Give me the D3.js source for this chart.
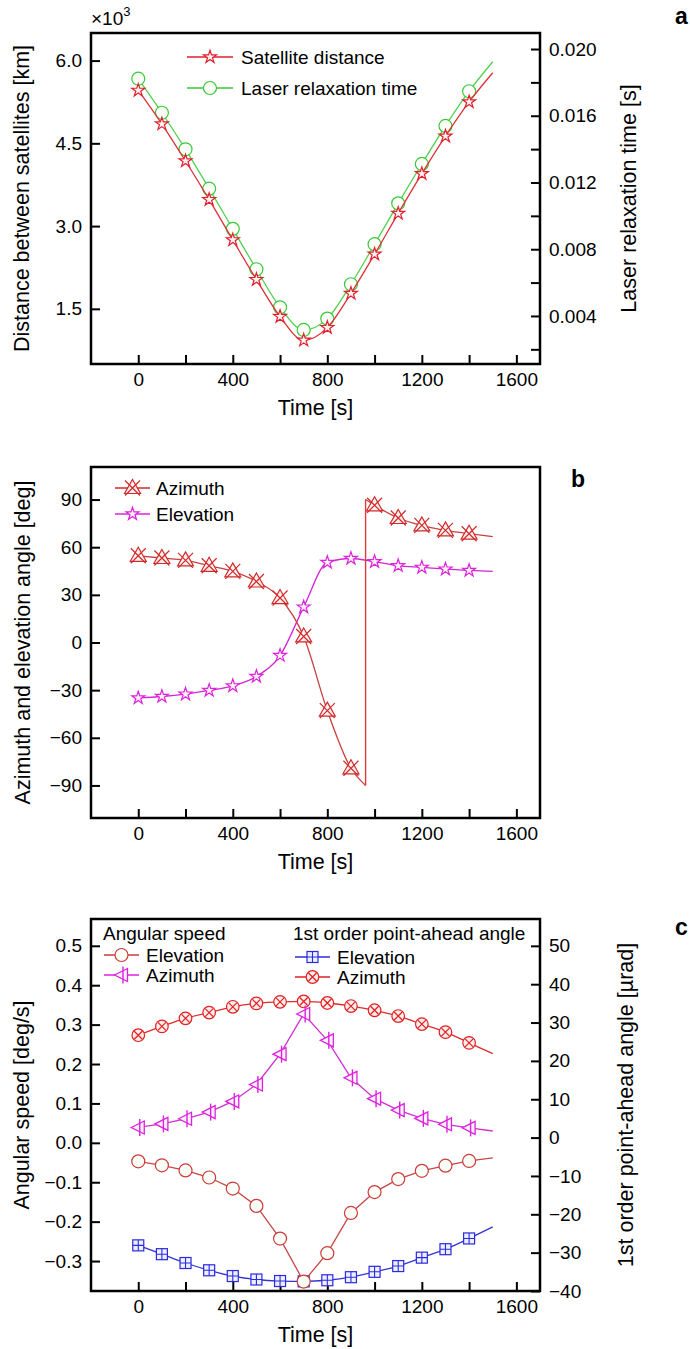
<!DOCTYPE html>
<html>
<head>
<meta charset="utf-8">
<script src="https://cdn.jsdelivr.net/npm/d3@7"></script>
<style>
  body { margin: 0; background: #fff; }
  svg text { font-family: "Liberation Sans", Arial, sans-serif; fill: #000; }
  .axis text { font-size: 19px; }
  .axis line { stroke: #000; stroke-width: 2; }
  .axis path { display: none; }
  .title { font-size: 21.5px; }
  .legend text { font-size: 19px; }
  .panel-label { font-size: 23px; font-weight: bold; }
</style>
</head>
<body>
<div id="chart"></div>
<script>

// ---- Data (time axis shared by all panels) ----
const times = [0, 100, 200, 300, 400, 500, 600, 700, 800, 900, 1000, 1100, 1200, 1300, 1400, 1500];
const lastMarkerTime = 1400;   // last point that carries a symbol

// Panel a
const satDistance = [5.46, 4.85, 4.18, 3.48, 2.75, 2.03, 1.36, 0.93, 1.16, 1.78, 2.49, 3.23, 3.95, 4.63, 5.25, 5.78];   // x10^3 km
const relaxTime   = [0.01822, 0.01618, 0.01399, 0.01163, 0.00922, 0.00680, 0.00452, 0.00316, 0.00384, 0.00590,
                     0.00830, 0.01075, 0.01311, 0.01539, 0.01747, 0.01924];                                             // s

// Panel b
const azimuth   = [54.6, 53.2, 51.7, 48.3, 44.8, 38.4, 28.0, 3.8, -42.9, -79.2, 86.4, 78.4, 73.7, 70.6, 68.5, 66.6];
const elevation = [-34.9, -34.0, -32.5, -30.2, -27.3, -21.4, -8.2, 22.3, 50.4, 52.9, 50.9, 48.3, 47.3, 46.2, 45.4, 44.8];
const azimuthWrapTime = 962;   // azimuth wraps from -90 to +90 here
const azimuthWrapFrom = -90;
const azimuthWrapTo   = 90;

// Panel c
const angSpeedElev = [-0.047, -0.057, -0.070, -0.088, -0.116, -0.160, -0.243, -0.352, -0.280, -0.178,
                      -0.125, -0.092, -0.071, -0.058, -0.046, -0.038];                                   // deg/s
const angSpeedAzim = [0.039, 0.048, 0.061, 0.078, 0.105, 0.148, 0.225, 0.327, 0.260, 0.165,
                      0.112, 0.083, 0.062, 0.047, 0.038, 0.030];                                         // deg/s
const paElev = [-28.1, -30.4, -32.7, -34.6, -36.1, -37.0, -37.4, -37.5, -37.2, -36.4, -35.0, -33.5, -31.3, -29.1, -26.3, -23.3]; // urad
const paAzim = [26.7, 29.0, 31.1, 32.6, 34.1, 35.0, 35.4, 35.5, 35.1, 34.3, 33.2, 31.7, 29.6, 27.5, 24.7, 21.9];                 // urad

// Ticks
const xTicks  = [0, 200, 400, 600, 800, 1000, 1200, 1400, 1600];
const xLabels = [0, 400, 800, 1200, 1600];
const aLeftTicks   = [1.5, 3.0, 4.5, 6.0];
const aRightTicks  = [0.002, 0.004, 0.006, 0.008, 0.010, 0.012, 0.014, 0.016, 0.018, 0.020];
const aRightLabels = [0.004, 0.008, 0.012, 0.016, 0.020];
const bLeftTicks   = [-90, -60, -30, 0, 30, 60, 90];
const cLeftTicks   = [-0.3, -0.2, -0.1, 0.0, 0.1, 0.2, 0.3, 0.4, 0.5];
const cRightTicks  = [-40, -30, -20, -10, 0, 10, 20, 30, 40, 50];

// ---- Layout ----
const W = 690, H = 1349;
const frame = {left: 91, right: 540};
const panels = {
    a: {top: 33,  bottom: 364},
    b: {top: 467, bottom: 818},
    c: {top: 919, bottom: 1291}
};

const svg = d3.select('#chart').append('svg')
    .attr('width', W).attr('height', H);

const x = d3.scaleLinear().domain([-200, 1700]).range([frame.left, frame.right]);

const yA  = d3.scaleLinear().domain([0.5, 6.5]).range([panels.a.bottom, panels.a.top]);
const yA2 = d3.scaleLinear().domain([0.00112, 0.02096]).range([panels.a.bottom, panels.a.top]);
const yB  = d3.scaleLinear().domain([-110.5, 110.5]).range([panels.b.bottom, panels.b.top]);
const yC  = d3.scaleLinear().domain([-0.376, 0.568]).range([panels.c.bottom, panels.c.top]);
const yC2 = d3.scaleLinear().domain([-40, 57]).range([panels.c.bottom, panels.c.top]);

// ---- Marker symbols, drawn centred on (0,0) ----
const markers = {
    star: function(s, c) {
        s.append('path').attr('d', d3.symbol(d3.symbolStar, 52)())
            .attr('fill', '#fff2f4').attr('stroke', c).attr('stroke-width', 1.2);
    },
    circle: function(s, c) {
        s.append('circle').attr('r', 6.5)
            .attr('fill', '#fbfff8').attr('stroke', c).attr('stroke-width', 1.2);
    },
    triX: function(s, c) {
        s.append('path').attr('d', 'M0,-8.5L8,5.5L-8,5.5Z')
            .attr('fill', '#fff0f0').attr('stroke', c).attr('stroke-width', 1.2);
        s.append('path').attr('d', 'M-7.5,-7.5L7.5,7.5M-7.5,7.5L7.5,-7.5')
            .attr('stroke', c).attr('stroke-width', 1.2);
    },
    triLeftBar: function(s, c) {
        s.append('path').attr('d', 'M-7,0L6,-6.5L6,6.5Z')
            .attr('fill', '#fff0ff').attr('stroke', c).attr('stroke-width', 1.3);
        s.append('path').attr('d', 'M1.5,-8.5L1.5,8.5')
            .attr('stroke', c).attr('stroke-width', 1.4);
    },
    squarePlus: function(s, c) {
        s.append('rect').attr('x', -5.5).attr('y', -5.5).attr('width', 11).attr('height', 11)
            .attr('fill', '#eef0ff').attr('stroke', c).attr('stroke-width', 1.2);
        s.append('path').attr('d', 'M0,-5.5L0,5.5M-5.5,0L5.5,0')
            .attr('stroke', c).attr('stroke-width', 1.1);
    },
    circleX: function(s, c) {
        s.append('circle').attr('r', 6.3)
            .attr('fill', '#ffecec').attr('stroke', c).attr('stroke-width', 1.2);
        s.append('path').attr('d', 'M-4,-4L4,4M-4,4L4,-4')
            .attr('stroke', c).attr('stroke-width', 1.2);
    }
};

// Line through a series (no markers).
function drawLine(g, ts, vals, yScale, color, curve) {
    let pts = ts.map((t, i) => [t, vals[i]]);
    g.append('path')
        .datum(pts)
        .attr('fill', 'none')
        .attr('stroke', color)
        .attr('stroke-width', 1.3)
        .attr('d', d3.line()
            .x(d => x(d[0]))
            .y(d => yScale(d[1]))
            .curve(curve || d3.curveMonotoneX));
}

// Markers of a series, up to lastMarkerTime.
function drawMarkers(g, ts, vals, yScale, color, marker) {
    let pts = ts.map((t, i) => [t, vals[i]]).filter(d => d[0] <= lastMarkerTime);
    g.selectAll(null)
        .data(pts)
        .enter()
        .append('g')
            .attr('transform', d => 'translate(' + x(d[0]) + ',' + yScale(d[1]) + ')')
            .each(function() { markers[marker](d3.select(this), color); });
}

function drawSeries(g, ts, vals, yScale, lineColor, markerColor, marker, curve) {
    drawLine(g, ts, vals, yScale, lineColor, curve);
    drawMarkers(g, ts, vals, yScale, markerColor, marker);
}

// Common parts of each panel: x axis and its title.
function setupPanel(p) {
    let g = svg.append('g');

    g.append('g')
        .attr('class', 'axis')
        .attr('transform', 'translate(0,' + p.bottom + ')')
        .call(d3.axisBottom(x).tickValues(xTicks).tickSize(-9).tickPadding(9)
            .tickFormat(d => xLabels.includes(d) ? d3.format('d')(d) : ''));

    g.append('text')
        .attr('class', 'title')
        .attr('x', (frame.left + frame.right) / 2)
        .attr('y', p.bottom + 51)
        .attr('text-anchor', 'middle')
        .text('Time [s]');
    return g;
}

function leftAxis(g, yScale, ticks, fmt) {
    g.append('g')
        .attr('class', 'axis')
        .attr('transform', 'translate(' + frame.left + ',0)')
        .call(d3.axisLeft(yScale).tickValues(ticks).tickSize(-9).tickPadding(9).tickFormat(fmt));
}

function rightAxis(g, yScale, ticks, fmt) {
    g.append('g')
        .attr('class', 'axis')
        .attr('transform', 'translate(' + frame.right + ',0)')
        .call(d3.axisRight(yScale).tickValues(ticks).tickSize(-9).tickPadding(9).tickFormat(fmt));
}

function vTitle(g, cx, cy, txt) {
    g.append('text')
        .attr('class', 'title')
        .attr('transform', 'translate(' + cx + ',' + cy + ') rotate(-90)')
        .attr('text-anchor', 'middle')
        .attr('dy', '0.35em')
        .text(txt);
}

function drawFrame(g, p) {
    g.append('rect')
        .attr('x', frame.left).attr('y', p.top)
        .attr('width', frame.right - frame.left)
        .attr('height', p.bottom - p.top)
        .attr('fill', 'none')
        .attr('stroke', '#000')
        .attr('stroke-width', 2.5);
}

function legendRow(g, x0, x1, y, color, marker, label, textX) {
    let row = g.append('g').attr('class', 'legend');
    row.append('line')
        .attr('x1', x0).attr('x2', x1).attr('y1', y).attr('y2', y)
        .attr('stroke', color).attr('stroke-width', 1.3);
    let m = row.append('g').attr('transform', 'translate(' + ((x0 + x1) / 2) + ',' + y + ')');
    markers[marker](m, color);
    row.append('text')
        .attr('x', textX).attr('y', y)
        .attr('dy', '0.35em')
        .text(label);
}

function panelLabel(txt, px, py) {
    svg.append('text').attr('class', 'panel-label').attr('x', px).attr('y', py).text(txt);
}

// ---- Panel a ----
{
    let p = panels.a;
    let g = setupPanel(p);
    leftAxis(g, yA, aLeftTicks, d3.format('.1f'));
    rightAxis(g, yA2, aRightTicks, d => aRightLabels.some(v => Math.abs(v - d) < 1e-9) ? d3.format('.3f')(d) : '');
    vTitle(g, 21, (p.top + p.bottom) / 2, 'Distance between satellites [km]');
    vTitle(g, 628, (p.top + p.bottom) / 2, 'Laser relaxation time [s]');

    let mult = g.append('text').attr('x', 91).attr('y', 25).style('font-size', '19px');
    mult.append('tspan').text('\u00d710');
    mult.append('tspan').attr('dy', -9).style('font-size', '13px').text('3');

    drawSeries(g, times, relaxTime, yA2, '#4fd04f', '#38c838', 'circle');
    drawSeries(g, times, satDistance, yA, '#dd3038', '#e0202c', 'star');

    legendRow(g, 187, 233, 57, '#e0202c', 'star', 'Satellite distance', 241);
    legendRow(g, 187, 233, 88, '#38c838', 'circle', 'Laser relaxation time', 241);
    drawFrame(g, p);
    panelLabel('a', 675, 24);
}

// ---- Panel b ----
{
    let p = panels.b;
    let g = setupPanel(p);
    leftAxis(g, yB, bLeftTicks, d3.format('d'));
    vTitle(g, 22, (p.top + p.bottom) / 2, 'Azimuth and elevation angle [deg]');

    drawSeries(g, times, elevation, yB, '#d424d4', '#dc22dc', 'star');

    // Azimuth: two branches joined by the wrap-around jump.
    let cut = times.findIndex(t => t > azimuthWrapTime);
    drawLine(g, times.slice(0, cut).concat([azimuthWrapTime]),
                azimuth.slice(0, cut).concat([azimuthWrapFrom]), yB, '#c84040');
    drawLine(g, [azimuthWrapTime].concat(times.slice(cut)),
                [azimuthWrapTo].concat(azimuth.slice(cut)), yB, '#c84040');
    g.append('line')
        .attr('x1', x(azimuthWrapTime)).attr('x2', x(azimuthWrapTime))
        .attr('y1', yB(azimuthWrapFrom)).attr('y2', yB(azimuthWrapTo))
        .attr('stroke', '#e23a3a').attr('stroke-width', 1.4);
    drawMarkers(g, times, azimuth, yB, '#d02a2a', 'triX');

    legendRow(g, 115, 150, 488, '#d02a2a', 'triX', 'Azimuth', 156);
    legendRow(g, 115, 150, 514, '#dc22dc', 'star', 'Elevation', 156);
    drawFrame(g, p);
    panelLabel('b', 571, 487);
}

// ---- Panel c ----
{
    let p = panels.c;
    let g = setupPanel(p);
    leftAxis(g, yC, cLeftTicks, d3.format('.1f'));
    rightAxis(g, yC2, cRightTicks, d3.format('d'));
    vTitle(g, 21, (p.top + p.bottom) / 2, 'Angular speed [deg/s]');
    vTitle(g, 625, (p.top + p.bottom) / 2, '1st order point-ahead angle [\u00b5rad]');

    drawSeries(g, times, paElev, yC2, '#3434d0', '#2a2ae0', 'squarePlus');
    drawSeries(g, times, paAzim, yC2, '#e02c2c', '#e02020', 'circleX');
    drawSeries(g, times, angSpeedAzim, yC, '#d030d0', '#dc22dc', 'triLeftBar', d3.curveLinear);
    drawSeries(g, times, angSpeedElev, yC, '#c84646', '#cc3a3a', 'circle', d3.curveLinear);

    let lg = g.append('g').attr('class', 'legend');
    lg.append('text').attr('x', 103).attr('y', 933).attr('dy', '0.35em').text('Angular speed');
    lg.append('text').attr('x', 293).attr('y', 933).attr('dy', '0.35em').text('1st order point-ahead angle');
    legendRow(g, 104, 139, 955, '#cc3a3a', 'circle', 'Elevation', 146);
    legendRow(g, 104, 139, 975, '#dc22dc', 'triLeftBar', 'Azimuth', 146);
    legendRow(g, 295, 330, 957, '#2a2ae0', 'squarePlus', 'Elevation', 337);
    legendRow(g, 295, 330, 977, '#e02020', 'circleX', 'Azimuth', 337);
    drawFrame(g, p);
    panelLabel('c', 675, 935);
}

</script>
</body>
</html>
